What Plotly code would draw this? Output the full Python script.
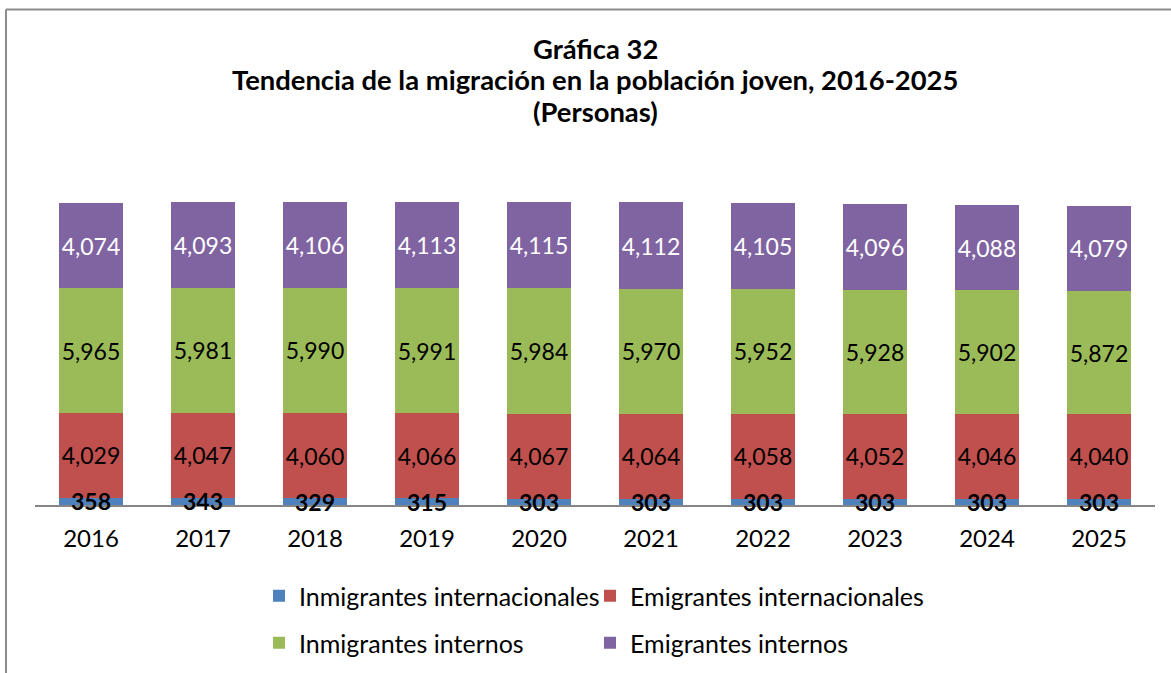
import plotly.graph_objects as go

years = ["2016", "2017", "2018", "2019", "2020", "2021", "2022", "2023", "2024", "2025"]
inmig_int = [358, 343, 329, 315, 303, 303, 303, 303, 303, 303]
emig_int = [4029, 4047, 4060, 4066, 4067, 4064, 4058, 4052, 4046, 4040]
inmig_interno = [5965, 5981, 5990, 5991, 5984, 5970, 5952, 5928, 5902, 5872]
emig_interno = [4074, 4093, 4106, 4113, 4115, 4112, 4105, 4096, 4088, 4079]
title_lines = ["Gráfica 32",
               "Tendencia de la migración en la población joven, 2016-2025",
               "(Personas)"]

FONT = "Lato"
W, H = 1171, 673
ml, mr, mt, mb = 35, 16, 170, 168
pw, ph = W - ml - mr, H - mt - mb

series = [
    ("Inmigrantes internacionales", inmig_int, "#4F81BD", "black", "legend"),
    ("Emigrantes internacionales", emig_int, "#C0504D", "black", "legend2"),
    ("Inmigrantes internos", inmig_interno, "#9BBB59", "black", "legend3"),
    ("Emigrantes internos", emig_interno, "#8064A2", "white", "legend4"),
]

fig = go.Figure()
for i, (name, vals, col, tcol, lg) in enumerate(series):
    fig.add_trace(go.Bar(
        x=years, y=vals, name=name, marker=dict(color=col, line=dict(width=0)),
        text=[f"{v:,}" for v in vals],
        textposition="none" if i == 0 else "inside", insidetextanchor="middle",
        constraintext="none", textangle=0, cliponaxis=False,
        textfont=dict(family=FONT, size=23, color=tcol),
        legend=lg, hoverinfo="skip",
    ))

# labels of the thin bottom segment (overflowing the bar, centred on it);
# on a category axis the annotation x is the category index
for idx, v in enumerate(inmig_int):
    fig.add_annotation(x=idx, y=v / 2, xref="x", yref="y", text=f"<b>{v:,}</b>",
                       showarrow=False, xanchor="center", yanchor="middle",
                       font=dict(family=FONT, size=23, color="black"))

# one legend box per entry, 2 x 2 grid
leg_pos = {"legend": (259, 573), "legend2": (590, 573),
           "legend3": (259, 620), "legend4": (590, 620)}
legs = {}
for key, (lx, ly) in leg_pos.items():
    legs[key] = dict(orientation="h", x=(lx - ml) / pw, xanchor="left",
                     y=(505 - ly) / ph, yanchor="top",
                     font=dict(family=FONT, size=25, color="black"),
                     bgcolor="rgba(0,0,0,0)", itemclick=False)

fig.update_layout(
    width=W, height=H, barmode="stack", bargap=0.43,
    margin=dict(l=ml, r=mr, t=mt, b=mb, autoexpand=False),
    paper_bgcolor="white", plot_bgcolor="white",
    font=dict(family=FONT, color="black"),
    xaxis=dict(type="category", categoryorder="array", categoryarray=years,
               range=[-0.5, len(years) - 0.5],
               showline=True, linecolor="#868686", linewidth=1.5, ticks="",
               tickfont=dict(family=FONT, size=24, color="black"),
               ticklabelstandoff=11, showgrid=False),
    yaxis=dict(range=[0, 16000], visible=False, showgrid=False),
    showlegend=True,
    **legs,
)

# title, one annotation per line
for line, yc in zip(title_lines, [49, 80, 111]):
    fig.add_annotation(text=f"<b>{line}</b>", xref="paper", yref="paper",
                       x=(595 - ml) / pw, y=(505 - yc) / ph, xanchor="center", yanchor="middle",
                       showarrow=False, font=dict(family=FONT, size=27.4, color="black"))

# outer chart frame
fig.add_shape(type="line", xref="paper", yref="paper",
              x0=(6 - ml) / pw, x1=(1180 - ml) / pw, y0=(505 - 9.5) / ph, y1=(505 - 9.5) / ph,
              line=dict(color="#8C8C8C", width=2))
fig.add_shape(type="line", xref="paper", yref="paper",
              x0=(6 - ml) / pw, x1=(6 - ml) / pw, y0=(505 - 9.5) / ph, y1=(505 - 690) / ph,
              line=dict(color="#8C8C8C", width=2))

fig.write_html("out.html", config={"displayModeBar": False},
               post_script="document.body.style.margin='0';")
